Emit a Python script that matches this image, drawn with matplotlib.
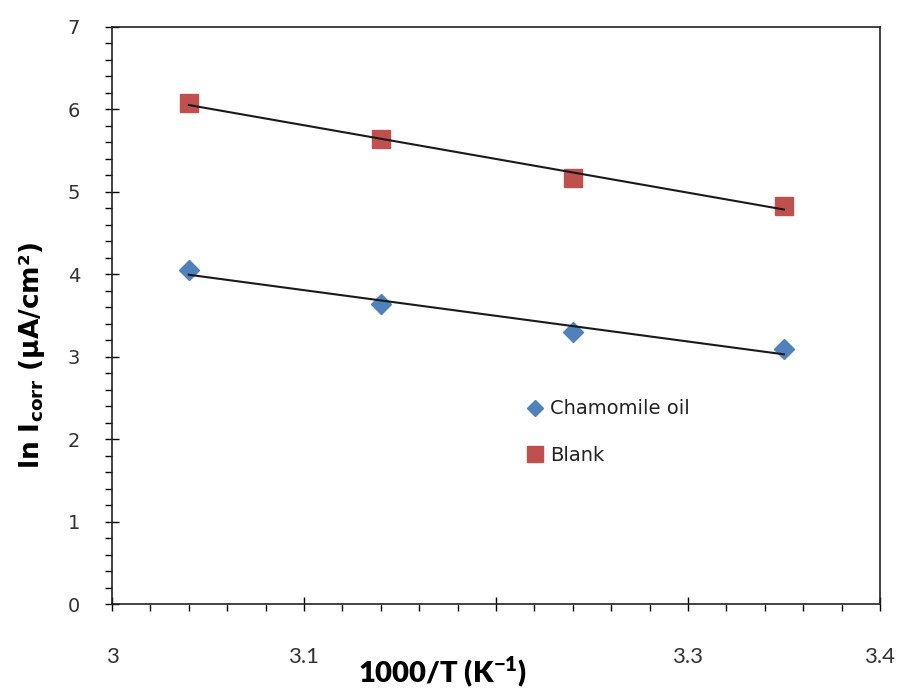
import numpy as np
import matplotlib.pyplot as plt
from matplotlib.ticker import MultipleLocator

plt.rcParams['font.family'] = ['DejaVu Sans']

# Arrhenius data: 1000/T vs ln(icorr)
inv_temp = [3.04, 3.14, 3.24, 3.35]
ln_icorr_blank = [6.08, 5.64, 5.17, 4.83]
ln_icorr_oil = [4.05, 3.64, 3.30, 3.09]

x_ticks = [3.0, 3.1, 3.2, 3.3, 3.4]
x_tick_labels = ['3', '3.1', '', '3.3', '3.4']

fig = plt.figure(figsize=(9.03, 6.92), dpi=100)
ax = fig.add_axes([0.124, 0.127, 0.8505, 0.834])

blue = '#4F81BD'
red = '#C0504D'

ax.plot(inv_temp, ln_icorr_oil, 'D', color=blue, markersize=10, label='Chamomile oil', zorder=3)
ax.plot(inv_temp, ln_icorr_blank, 's', color=red, markersize=13, label='Blank', zorder=3)

# linear trend lines over the measured range
for y in (ln_icorr_blank, ln_icorr_oil):
    k, b = np.polyfit(inv_temp, y, 1)
    xs = np.array([inv_temp[0], inv_temp[-1]])
    ax.plot(xs, k * xs + b, color='#1a1a1a', lw=1.5, zorder=4)

ax.set_xlim(3.0, 3.4)
ax.set_ylim(0, 7)
ax.xaxis.set_minor_locator(MultipleLocator(0.02))
ax.yaxis.set_major_locator(MultipleLocator(1))
ax.yaxis.set_minor_locator(MultipleLocator(0.2))

ax.tick_params(which='major', direction='inout', length=10, width=1)
ax.tick_params(which='minor', direction='out', length=5, width=1)
ax.tick_params(axis='x', which='major', pad=26)
ax.tick_params(axis='y', which='major', pad=18, labelsize=14, labelcolor='#333333')

ax.set_xticks(x_ticks)
ax.set_xticklabels(x_tick_labels, family='Lato', fontsize=16, color='#333333')

for s in ax.spines.values():
    s.set_linewidth(1.2)
    s.set_color('#222222')

ax.set_xlabel('1000/T (K$^{\\mathregular{-1}}$)', fontsize=21, fontweight='heavy',
              family='Lato')
ax.xaxis.set_label_coords(0.43, -0.088)
ax.set_ylabel('ln I$_{\\mathregular{corr}}$ (μA/cm²)', fontsize=19, fontweight='bold')
ax.yaxis.set_label_coords(-0.085, 0.43)

ax.legend(loc='upper left', bbox_to_anchor=(0.513, 0.385), frameon=False, fontsize=14,
          handletextpad=0.15, labelspacing=1.4, handlelength=1.2, markerscale=0.85,
          labelcolor='#222222')

fig.savefig('out.png', dpi=100)
